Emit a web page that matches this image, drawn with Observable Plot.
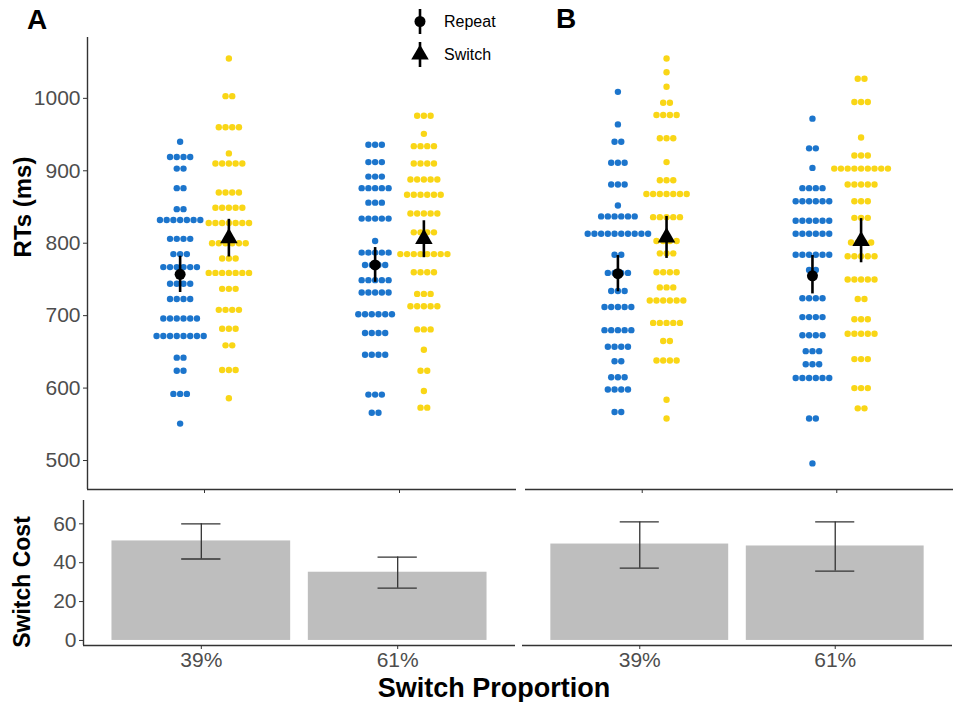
<!DOCTYPE html>
<html><head><meta charset="utf-8">
<script src="https://cdn.jsdelivr.net/npm/d3@7"></script>
<script src="https://cdn.jsdelivr.net/npm/@observablehq/plot@0.6"></script>
<style>
body{margin:0;background:#fff;font-family:"Liberation Sans",Arial,sans-serif;}
#root{position:relative;width:962px;height:702px;overflow:hidden;background:#fff;}
#root svg{position:absolute;overflow:visible;background:transparent;}
</style></head>
<body><div id="root"></div>
<script>
// ---------------- data ----------------
const categories = ["39%", "61%"];
const conditions = ["Repeat", "Switch"];

// dot-plot bins: [RT (ms), number of participants in bin]
const panelA_39_repeat = [[940,1],[919,4],[903,2],[876,2],[847,2],[832,7],[806,4],[785,3],[767,6],[744,4],[723,4],[696,6],[672,8],[642,2],[624,2],[592,3],[551,1]];
const panelA_39_switch = [[1055,1],[1003,2],[960,4],[924,1],[910,5],[870,4],[849,5],[828,7],[800,6],[779,3],[759,7],[737,3],[708,4],[682,3],[659,2],[625,3],[586,1]];
const panelA_61_repeat = [[936,3],[912,3],[892,3],[876,5],[856,3],[834,5],[803,1],[787,5],[770,4],[749,5],[732,5],[702,6],[676,4],[646,4],[591,3],[566,2]];
const panelA_61_switch = [[976,3],[951,1],[934,4],[910,4],[888,5],[867,6],[841,5],[815,4],[785,8],[760,4],[730,3],[713,5],[681,3],[653,1],[624,2],[596,1],[573,2]];
const panelB_39_repeat = [[1009,1],[964,1],[940,2],[911,3],[881,3],[852,1],[837,6],[813,10],[784,2],[759,4],[734,3],[712,5],[680,5],[657,4],[637,2],[615,3],[598,4],[567,2]];
const panelB_39_switch = [[1055,1],[1036,1],[1016,1],[994,2],[977,4],[945,3],[912,1],[887,3],[868,7],[836,5],[803,4],[786,3],[760,4],[739,3],[721,6],[690,5],[665,2],[638,4],[584,1],[558,1]];
const panelB_61_repeat = [[972,1],[931,2],[904,1],[876,4],[858,6],[831,6],[813,6],[784,6],[763,2],[724,4],[698,4],[673,4],[651,3],[633,3],[614,6],[558,2],[496,1]];
const panelB_61_switch = [[1027,2],[995,3],[946,1],[921,3],[903,9],[881,5],[858,3],[835,3],[801,4],[782,5],[750,5],[723,2],[695,3],[675,5],[640,3],[600,3],[572,2]];

// condition means with error bars
const meanPanel = ["A","A","A","A","B","B","B","B"];
const meanProp  = ["39%","39%","61%","61%","39%","39%","61%","61%"];
const meanCond  = ["Repeat","Switch","Repeat","Switch","Repeat","Switch","Repeat","Switch"];
const meanRT    = [757, 807, 770, 806, 758, 808, 755, 803];
const meanLow   = [732, 781, 746, 780, 733, 779, 730, 773];
const meanHigh  = [782, 833, 794, 831, 783, 837, 783, 834];

// switch cost bars
const costPanel = ["A","A","B","B"];
const costProp  = ["39%","61%","39%","61%"];
const costValue = [51.2, 35.1, 49.6, 48.6];
const costLow   = [41.9, 26.9, 37.2, 35.7];
const costHigh  = [60.0, 42.9, 61.0, 61.0];

const rtTicks = [500, 600, 700, 800, 900, 1000];
const costTicks = [0, 20, 40, 60];

// ---------------- style ----------------
const BLUE = "#1c75cc", YELLOW = "#f9d616", BAR = "#bebebe";
const AXIS = "#333333", TICKTXT = "#4d4d4d";
const FONT = "'Liberation Sans', Arial, sans-serif";
const DODGE = 0.125, STEP = 0.0345;

const bins = {
  A: {"39%": {Repeat: panelA_39_repeat, Switch: panelA_39_switch}, "61%": {Repeat: panelA_61_repeat, Switch: panelA_61_switch}},
  B: {"39%": {Repeat: panelB_39_repeat, Switch: panelB_39_switch}, "61%": {Repeat: panelB_61_repeat, Switch: panelB_61_switch}}
};
const catPos = p => categories.indexOf(p) + 1;
const condOff = c => c === "Repeat" ? -DODGE : DODGE;

function dotsFor(panel) {
  const out = [];
  for (const p of categories) for (const c of conditions) {
    const center = catPos(p) + condOff(c);
    for (const [v, n] of bins[panel][p][c]) {
      for (let i = 0; i < n; i++) out.push({x: center + (i - (n - 1) / 2) * STEP, y: v, cond: c});
    }
  }
  return out;
}
const means = meanRT.map((v, i) => ({panel: meanPanel[i], x: catPos(meanProp[i]) + condOff(meanCond[i]), rt: v, lo: meanLow[i], hi: meanHigh[i], cond: meanCond[i]}));
const costs = costValue.map((v, i) => ({panel: costPanel[i], x: catPos(costProp[i]), value: v, lo: costLow[i], hi: costHigh[i]}));

const root = document.getElementById("root");
function place(node, left, top) { node.style.left = left + "px"; node.style.top = top + "px"; root.appendChild(node); }

const baseStyle = {fontFamily: FONT, fontSize: "21px", color: TICKTXT, background: "transparent", overflow: "visible"};

function topPlot(panel, width, ml, mr, showY) {
  const m = means.filter(d => d.panel === panel);
  const marks = [
    Plot.dot(dotsFor(panel), {x: "x", y: "y", r: 3.2, fill: d => d.cond === "Repeat" ? BLUE : YELLOW}),
    Plot.ruleY([460], {stroke: AXIS, strokeWidth: 1.4}),
    Plot.axisX([1, 2], {tickSize: 4, tickFormat: () => "", stroke: AXIS, label: null}),
    Plot.ruleX(m, {x: "x", y1: "lo", y2: "hi", stroke: "black", strokeWidth: 2.6}),
    Plot.dot(m.filter(d => d.cond === "Repeat"), {x: "x", y: "rt", r: 5.5, fill: "black", symbol: "circle"}),
    Plot.dot(m.filter(d => d.cond === "Switch"), {x: "x", y: "rt", r: 6.5, fill: "black", symbol: "triangle"})
  ];
  if (showY) {
    marks.push(Plot.ruleX([0.4], {stroke: AXIS, strokeWidth: 1.4}));
    marks.push(Plot.axisY(rtTicks, {tickSize: 4, tickPadding: 3, fontSize: 21, tickFormat: d => String(d), label: null, fill: TICKTXT, stroke: AXIS}));
  }
  return Plot.plot({
    width, height: 470, marginLeft: ml, marginRight: mr, marginTop: 7, marginBottom: 11,
    style: baseStyle,
    x: {domain: [0.4, 2.6]},
    y: {domain: [460, 1084], axis: showY ? undefined : null},
    marks
  });
}

function bottomPlot(panel, width, ml, mr, showY) {
  const c = costs.filter(d => d.panel === panel);
  const marks = [
    Plot.rect(c, {x1: d => d.x - 0.455, x2: d => d.x + 0.455, y1: 0, y2: "value", fill: BAR}),
    Plot.ruleX(c, {x: "x", y1: "lo", y2: "hi", stroke: AXIS, strokeWidth: 1.3}),
    Plot.ruleY(c, {y: "hi", x1: d => d.x - 0.1, x2: d => d.x + 0.1, stroke: AXIS, strokeWidth: 1.3}),
    Plot.ruleY(c, {y: "lo", x1: d => d.x - 0.1, x2: d => d.x + 0.1, stroke: AXIS, strokeWidth: 1.3}),
    Plot.ruleY([-2.6], {stroke: AXIS, strokeWidth: 1.4}),
    Plot.axisX([1, 2], {tickSize: 4, tickPadding: 3, tickFormat: d => categories[d - 1], fontSize: 21, fill: TICKTXT, stroke: AXIS, label: null})
  ];
  if (showY) {
    marks.push(Plot.ruleX([0.4], {stroke: AXIS, strokeWidth: 1.4}));
    marks.push(Plot.axisY(costTicks, {tickSize: 4, tickPadding: 3, fontSize: 21, label: null, fill: TICKTXT, stroke: AXIS}));
  }
  return Plot.plot({
    width, height: 180, marginLeft: ml, marginRight: mr, marginTop: 5, marginBottom: 30,
    style: baseStyle,
    x: {domain: [0.4, 2.6]},
    y: {domain: [-2.6, 72], axis: showY ? undefined : null},
    marks
  });
}

place(topPlot("A", 518, 87, 2, true), 0, 30);
place(topPlot("B", 444, 7, 9, false), 518, 30);
place(bottomPlot("A", 518, 83, 3, true), 0, 495);
place(bottomPlot("B", 444, 4, 10, false), 518, 495);

// ---------------- text overlay (titles, panel tags, legend) ----------------
const ov = d3.create("svg").attr("width", 962).attr("height", 702).style("left", "0px").style("top", "0px").style("pointer-events", "none")
  .attr("font-family", FONT);
ov.append("text").attr("x", 27).attr("y", 29).attr("font-size", 28).attr("font-weight", "bold").attr("fill", "black").text("A");
ov.append("text").attr("x", 556).attr("y", 28).attr("font-size", 28).attr("font-weight", "bold").attr("fill", "black").text("B");
ov.append("text").attr("transform", "translate(31,207) rotate(-90)").attr("text-anchor", "middle").attr("font-size", 24).attr("font-weight", "bold").attr("fill", "black").text("RTs (ms)");
ov.append("text").attr("transform", "translate(30,582) rotate(-90)").attr("text-anchor", "middle").attr("font-size", 23).attr("font-weight", "bold").attr("fill", "black").text("Switch Cost");
ov.append("text").attr("x", 494).attr("y", 697).attr("text-anchor", "middle").attr("font-size", 27).attr("font-weight", "bold").attr("fill", "black").text("Switch Proportion");
// legend
const lg = ov.append("g");
lg.append("line").attr("x1", 420).attr("x2", 420).attr("y1", 9).attr("y2", 34).attr("stroke", "black").attr("stroke-width", 2.6);
lg.append("circle").attr("cx", 420).attr("cy", 21.5).attr("r", 5.5).attr("fill", "black");
lg.append("line").attr("x1", 420).attr("x2", 420).attr("y1", 42).attr("y2", 67).attr("stroke", "black").attr("stroke-width", 2.6);
lg.append("path").attr("d", d3.symbol(d3.symbolTriangle, 6.5 * 6.5 * Math.PI)()).attr("transform", "translate(420,54.5)").attr("fill", "black");
lg.append("text").attr("x", 444).attr("y", 27).attr("font-size", 16).attr("fill", "black").text("Repeat");
lg.append("text").attr("x", 444).attr("y", 60).attr("font-size", 16).attr("fill", "black").text("Switch");
root.appendChild(ov.node());
</script>
</body></html>
